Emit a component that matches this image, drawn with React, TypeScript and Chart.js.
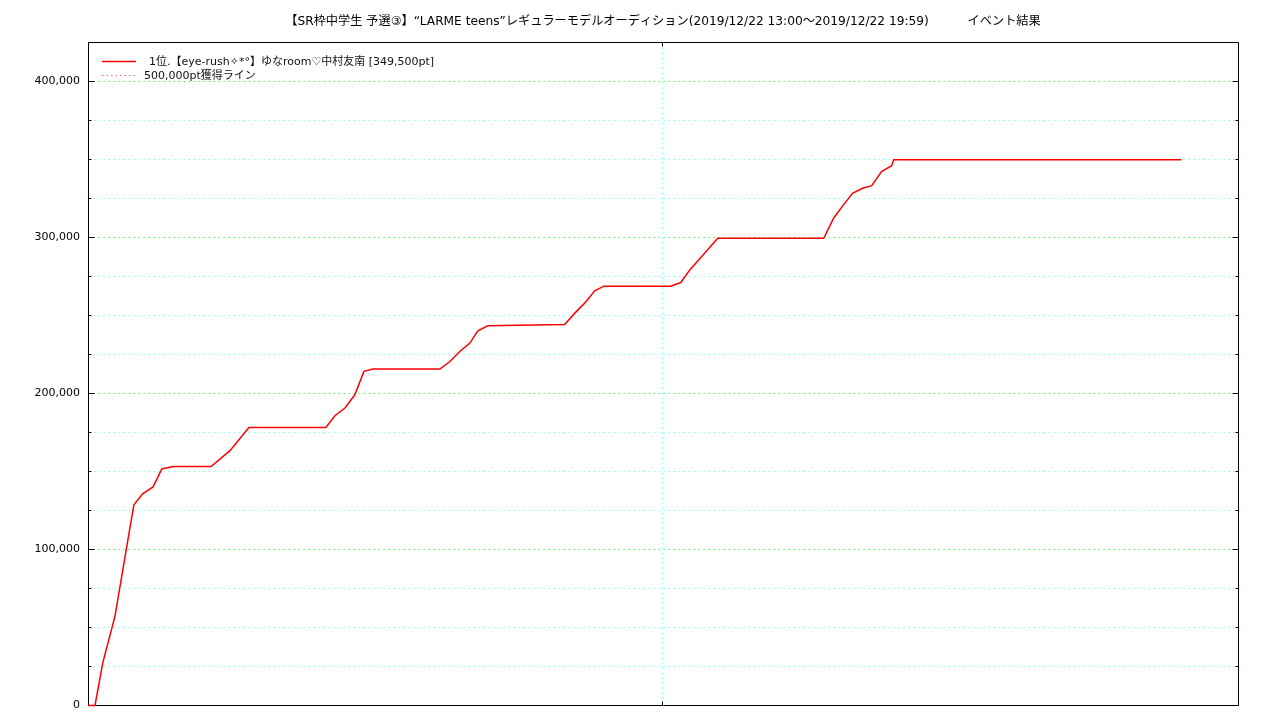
import React, { useEffect, useRef } from "react";
import { Chart, registerables } from "chart.js";

Chart.register(...registerables);

const TITLE =
  "【SR枠中学生 予選③】“LARME teens”レギュラーモデルオーディション(2019/12/22 13:00～2019/12/22 19:59)          イベント結果";
const SERIES_LABEL = "1位.【eye-rush✧*°】ゆなroom♡中村友南 [349,500pt]";
const TARGET_LABEL = "500,000pt獲得ライン";

// elapsed minutes since 13:00
const minutes = [
  -2.7, 0, 3.1, 7.7, 15.0, 18.5, 22.4, 25.8, 30.1, 44.8, 52.1, 59.4, 89.1, 92.6,
  96.5, 100.3, 103.8, 107.3, 133.1, 137.0, 140.8, 144.7, 147.8, 151.6, 181.3,
  185.2, 189.0, 192.9, 196.4, 222.2, 226.1, 229.6, 240.4, 281.3, 285.1, 288.6,
  292.4, 296.3, 299.8, 303.6, 307.5, 308.3, 419.3,
];
// points (pt)
const points = [
  0, 0, 28000, 57000, 128500, 135700, 140000, 151500, 153000, 153000, 163200,
  178000, 178000, 185600, 190500, 199000, 214000, 215500, 215500, 220300,
  226700, 232100, 240000, 243200, 244000, 251300, 257700, 265600, 268600,
  268600, 270900, 279000, 299300, 299300, 312100, 320000, 328100, 331300,
  333000, 342000, 345800, 349500, 349500,
];
const TARGET = 500000;

const Y_MIN = 0;
const Y_MAX = 425000;
const Y_STEP = 25000;
const Y_MAJOR = 100000;
const X_MIN = -2.7;
const X_MAX = 441.2;
const X_TICKS = [219.2];

const FONT = '"DejaVu Sans", "Noto Sans CJK JP", sans-serif';
const CYAN = "rgb(130,255,255)";
const GREEN = "rgb(90,240,90)";
const RED = "#ff0000";
const PINK = "rgba(255,0,0,0.6)";
const GRID_DASH = [1.6, 3.4];

const decor = {
  id: "decor",
  beforeDatasetsDraw(chart: any) {
    const { ctx, chartArea: a, scales } = chart;
    const ys = scales.y;
    const xs = scales.x;
    const L = Math.floor(a.left) + 0.5;
    const R = Math.floor(a.right) + 0.5;
    const T = Math.floor(a.top) + 0.5;
    const B = Math.floor(a.bottom) + 0.5;
    ctx.save();
    // grid lines from the scales' ticks
    ctx.lineWidth = 1;
    ctx.setLineDash(GRID_DASH);
    ys.ticks.forEach((t: any) => {
      if (t.value <= Y_MIN || t.value >= Y_MAX) return;
      const py = Math.floor(ys.getPixelForValue(t.value)) + 0.5;
      ctx.strokeStyle = Math.round(t.value) % Y_MAJOR === 0 ? GREEN : CYAN;
      ctx.beginPath();
      ctx.moveTo(L, py);
      ctx.lineTo(R, py);
      ctx.stroke();
    });
    xs.ticks.forEach((t: any) => {
      const px = Math.floor(xs.getPixelForValue(t.value)) + 0.5;
      ctx.strokeStyle = CYAN;
      ctx.beginPath();
      ctx.moveTo(px, T);
      ctx.lineTo(px, B);
      ctx.stroke();
    });
    // frame and inward ticks
    ctx.strokeStyle = "#000";
    ctx.setLineDash([]);
    ctx.beginPath();
    ctx.rect(L, T, R - L, B - T);
    ys.ticks.forEach((t: any) => {
      const py = Math.floor(ys.getPixelForValue(t.value)) + 0.5;
      const len = Math.round(t.value) % Y_MAJOR === 0 ? 6 : 3;
      ctx.moveTo(L, py);
      ctx.lineTo(L + len, py);
      ctx.moveTo(R, py);
      ctx.lineTo(R - len, py);
    });
    xs.ticks.forEach((t: any) => {
      const px = Math.floor(xs.getPixelForValue(t.value)) + 0.5;
      ctx.moveTo(px, B);
      ctx.lineTo(px, B - 4);
      ctx.moveTo(px, T);
      ctx.lineTo(px, T + 4);
    });
    ctx.stroke();
    ctx.restore();
  },
  afterDraw(chart: any) {
    const { ctx, chartArea: a } = chart;
    ctx.save();
    // title
    ctx.fillStyle = "#000";
    ctx.font = `12.2px ${FONT}`;
    ctx.textAlign = "center";
    ctx.textBaseline = "middle";
    ctx.fillText(TITLE, (a.left + a.right) / 2, 21.5);
    // legend
    ctx.font = `11px ${FONT}`;
    ctx.textAlign = "left";
    const rows = [
      { y: 61.5, tx: a.left + 61, color: RED, dash: [] as number[], w: 1.5, label: SERIES_LABEL },
      { y: 75.5, tx: a.left + 56, color: PINK, dash: [1.5, 3], w: 1.2, label: TARGET_LABEL },
    ];
    rows.forEach((r) => {
      ctx.beginPath();
      ctx.strokeStyle = r.color;
      ctx.lineWidth = r.w;
      ctx.setLineDash(r.dash);
      ctx.moveTo(a.left + 14, r.y);
      ctx.lineTo(a.left + 48, r.y);
      ctx.stroke();
      ctx.setLineDash([]);
      ctx.fillStyle = "#111";
      ctx.fillText(r.label, r.tx, r.y + 0.5);
    });
    ctx.restore();
  },
};

export default function App() {
  const ref = useRef<HTMLCanvasElement>(null);
  useEffect(() => {
    if (!ref.current) return;
    const chart = new Chart(ref.current, {
      type: "line",
      data: {
        datasets: [
          {
            label: SERIES_LABEL,
            data: minutes.map((m, i) => ({ x: m, y: points[i] })),
            borderColor: RED,
            borderWidth: 1.5,
            pointRadius: 0,
            tension: 0,
            clip: false as any,
          },
          {
            label: TARGET_LABEL,
            data: [
              { x: X_MIN, y: TARGET },
              { x: X_MAX, y: TARGET },
            ],
            borderColor: PINK,
            borderDash: [1.5, 3],
            borderWidth: 1,
            pointRadius: 0,
          },
        ],
      },
      options: {
        responsive: false,
        animation: false,
        devicePixelRatio: 1,
        layout: { padding: { top: 42, right: 42, bottom: 14, left: 0 } },
        plugins: {
          legend: { display: false },
          title: { display: false },
          tooltip: { enabled: false },
        },
        scales: {
          x: {
            type: "linear",
            min: X_MIN,
            max: X_MAX,
            afterBuildTicks: (s: any) => {
              s.ticks = X_TICKS.map((v) => ({ value: v }));
            },
            afterFit: (s: any) => {
              s.height = 0;
            },
            ticks: { display: false },
            grid: { display: false },
            border: { display: false },
          },
          y: {
            type: "linear",
            min: Y_MIN,
            max: Y_MAX,
            afterFit: (s: any) => {
              s.width = 88;
            },
            ticks: {
              stepSize: Y_STEP,
              padding: 8,
              color: "#000",
              font: { family: FONT, size: 11 },
              callback: (v: any) =>
                Math.round(Number(v)) % Y_MAJOR === 0
                  ? Number(v).toLocaleString("en-US")
                  : "",
            },
            grid: { display: false, drawTicks: false },
            border: { display: false },
          },
        },
      },
      plugins: [decor],
    });
    return () => chart.destroy();
  }, []);
  return (
    <div style={{ position: "absolute", left: 0, top: 0, width: 1280, height: 720, background: "#fff" }}>
      <canvas ref={ref} width={1280} height={720} style={{ display: "block" }} />
    </div>
  );
}
